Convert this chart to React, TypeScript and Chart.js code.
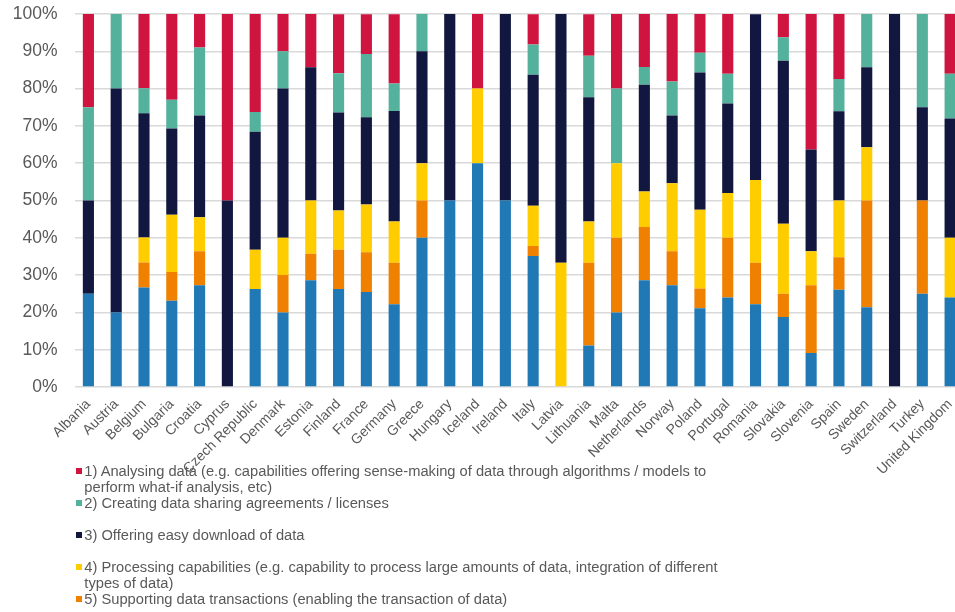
import React, { useEffect, useRef } from "react";
import { Chart, registerables } from "chart.js";

Chart.register(...registerables);

const countries = [
  "Albania", "Austria", "Belgium", "Bulgaria", "Croatia", "Cyprus", "Czech Republic", "Denmark",
  "Estonia", "Finland", "France", "Germany", "Greece", "Hungary", "Iceland", "Ireland",
  "Italy", "Latvia", "Lithuania", "Malta", "Netherlands", "Norway", "Poland", "Portugal",
  "Romania", "Slovakia", "Slovenia", "Spain", "Sweden", "Switzerland", "Turkey", "United Kingdom",
];

// bottom to top
const s6Other = [25, 20, 26.7, 23.1, 27.3, 0, 26.3, 20, 28.6, 26.3, 25.5, 22.2, 40, 50, 60, 50, 35.1, 0, 11.1, 20, 28.6, 27.3, 21.1, 24, 22.2, 18.75, 9.1, 26.1, 21.4, 0, 25, 24];
const s5Transactions = [0, 0, 6.7, 7.7, 9.1, 0, 0, 10, 7.1, 10.5, 10.6, 11.1, 10, 0, 0, 0, 2.7, 0, 22.2, 20, 14.3, 9.1, 5.3, 16, 11.1, 6.25, 18.2, 8.7, 28.6, 0, 25, 0];
const s4Processing = [0, 0, 6.7, 15.4, 9.1, 0, 10.5, 10, 14.3, 10.5, 12.8, 11.1, 10, 0, 20, 0, 10.8, 33.3, 11.1, 20, 9.5, 18.2, 21.1, 12, 22.2, 18.75, 9.1, 15.2, 14.3, 0, 0, 16];
const s3Download = [25, 60, 33.3, 23.1, 27.3, 50, 31.6, 40, 35.7, 26.3, 23.4, 29.6, 30, 50, 0, 50, 35.1, 66.7, 33.3, 0, 28.6, 18.2, 36.8, 24, 44.4, 43.75, 27.3, 23.9, 21.4, 100, 25, 32];
const s2Agreements = [25, 20, 6.7, 7.7, 18.2, 0, 5.3, 10, 0, 10.5, 17.0, 7.4, 10, 0, 0, 0, 8.1, 0, 11.1, 20, 4.8, 9.1, 5.3, 8, 0, 6.25, 0, 8.7, 14.3, 0, 25, 12];
const s1Analysing = [25, 0, 20, 23.1, 9.1, 50, 26.3, 10, 14.3, 15.8, 10.6, 18.5, 0, 0, 20, 0, 8.1, 0, 11.1, 20, 14.3, 18.2, 10.5, 16, 0, 6.25, 36.4, 17.4, 0, 0, 0, 16];

const yTicks = [0, 10, 20, 30, 40, 50, 60, 70, 80, 90, 100];

const legendLines = [
  ["1) Analysing data (e.g. capabilities offering sense-making of data through algorithms / models to", "perform what-if analysis, etc)"],
  ["2) Creating data sharing agreements / licenses"],
  ["3) Offering easy download of data"],
  ["4) Processing capabilities (e.g. capability to process large amounts of data, integration of different", "types of data)"],
  ["5) Supporting data transactions (enabling the transaction of data)"],
  ["6) Other"],
];

const COLORS = {
  red: "#CF1440",
  teal: "#54B19B",
  navy: "#11173F",
  yellow: "#FFCC00",
  orange: "#F08000",
  blue: "#2079B5",
};
const legendColors = [COLORS.red, COLORS.teal, COLORS.navy, COLORS.yellow, COLORS.orange, COLORS.blue];

const FONT = "'Liberation Sans', Arial, sans-serif";
const GRAY = "#595959";

export default function App() {
  const ref = useRef<HTMLCanvasElement | null>(null);

  useEffect(() => {
    document.body.style.margin = "0";
    if (!ref.current) return;
    const mk = (label: string, data: number[], color: string) => ({
      label,
      data,
      backgroundColor: color,
      borderWidth: 0,
      barPercentage: 0.4,
      categoryPercentage: 1,
    });
    const chart = new Chart(ref.current, {
      type: "bar",
      data: {
        labels: countries,
        datasets: [
          mk(legendLines[5].join(" "), s6Other, COLORS.blue),
          mk(legendLines[4].join(" "), s5Transactions, COLORS.orange),
          mk(legendLines[3].join(" "), s4Processing, COLORS.yellow),
          mk(legendLines[2].join(" "), s3Download, COLORS.navy),
          mk(legendLines[1].join(" "), s2Agreements, COLORS.teal),
          mk(legendLines[0].join(" "), s1Analysing, COLORS.red),
        ],
      },
      options: {
        animation: false,
        responsive: false,
        layout: { padding: { top: 14, left: 0, right: 0, bottom: 0 } },
        plugins: { legend: { display: false }, tooltip: { enabled: false } },
        scales: {
          x: {
            stacked: true,
            grid: { display: false, drawTicks: false },
            border: { display: false },
            ticks: {
              autoSkip: false,
              maxRotation: 45,
              minRotation: 45,
              padding: 9,
              color: GRAY,
              font: { family: FONT, size: 14 },
            },
            afterFit: (scale: any) => {
              scale.height = 225;
            },
          },
          y: {
            stacked: true,
            min: 0,
            max: 100,
            afterBuildTicks: (scale: any) => {
              scale.ticks = yTicks.map((v) => ({ value: v }));
            },
            grid: {
              color: "#d9d9d9",
              lineWidth: 1.5,
              drawTicks: true,
              tickLength: 17,
              tickColor: "rgba(0,0,0,0)",
            },
            border: { display: false },
            ticks: {
              padding: 0,
              color: GRAY,
              font: { family: FONT, size: 17.5 },
              callback: (v: any) => v + "%",
            },
            afterFit: (scale: any) => {
              scale.width = 74.5;
            },
          },
        },
      },
    });
    return () => chart.destroy();
  }, []);

  return (
    <div style={{ position: "relative", width: 955, height: 612, overflow: "hidden", background: "#fff" }}>
      <canvas ref={ref} width={971} height={612} style={{ position: "absolute", left: 0, top: 0, width: 971, height: 612 }} />
      <div style={{ position: "absolute", left: 76, top: 462.7, fontFamily: FONT, fontSize: 14.7, lineHeight: "16px", color: GRAY }}>
        {legendLines.map((lines, i) => (
          <div key={i} style={{ position: "relative", height: 32, whiteSpace: "nowrap" }}>
            <span style={{ position: "absolute", left: 0, top: 5, width: 5.5, height: 6.8, background: legendColors[i] }} />
            <div style={{ marginLeft: 8.3 }}>
              {lines.map((l, j) => (
                <div key={j}>{l}</div>
              ))}
            </div>
          </div>
        ))}
      </div>
    </div>
  );
}
